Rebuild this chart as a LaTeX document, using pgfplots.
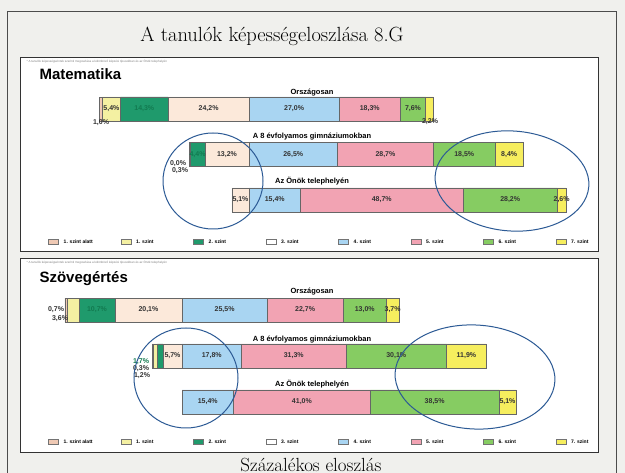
\documentclass[border=0pt]{standalone}
\usepackage{pgfplots}
\pgfplotsset{compat=1.18}
\usepackage{fontspec}
\setsansfont{Liberation Sans}

\definecolor{paper}{HTML}{F0F0ED}
\definecolor{lvlA}{HTML}{EFC9B4}
\definecolor{lvlB}{HTML}{F4F0A2}
\definecolor{lvlC}{HTML}{1F9A6C}
\definecolor{lvlD}{HTML}{FCE9DA}
\definecolor{lvlE}{HTML}{A9D5F2}
\definecolor{lvlF}{HTML}{F2A3B3}
\definecolor{lvlG}{HTML}{86CC62}
\definecolor{lvlH}{HTML}{F6EE5E}
\definecolor{pen}{HTML}{2C5A95}
\definecolor{darkgrn}{HTML}{127A50}

\newcommand{\lab}{\sffamily\bfseries\fontsize{7}{8}\selectfont}
\newcommand{\cat}{\sffamily\bfseries\fontsize{7.5}{8}\selectfont}
\newcommand{\leg}[1]{\makebox[50pt][l]{#1}}

% x values are shifted by 50: the boundary of levels 3 and 4 lies at x=50
\pgfplotsset{
  panel/.style={
    xbar stacked, hide axis, scale only axis, clip=false,
    width=601.2pt, xmin=-20, xmax=160,
    y dir=reverse, ymin=-0.5, ymax=2.5, bar width=24pt,
  },
  legpanel/.style={
    hide axis, scale only axis, width=601.2pt, xmin=0, xmax=1, ymin=0, ymax=1,
    legend columns=8,
    legend style={draw=none, fill=none, inner sep=0pt, anchor=west,
      font=\sffamily\bfseries\fontsize{5}{6}\selectfont,
      /tikz/every odd column/.append style={column sep=3pt},
      /tikz/every even column/.append style={column sep=5pt}},
    legend image code/.code={\draw[draw=black!55, line width=0.5pt, ##1] (0pt,-2.5pt) rectangle (10pt,2.5pt);},
  },
  seg/.style={fill=#1, draw=black!60, line width=0.5pt,
    nodes near coords, point meta=explicit symbolic,
    every node near coord/.append style={font=\lab, text=black!80}},
  offs/.style={draw=none, fill=none},
}

\newcommand{\szintlegend}{%
  \addlegendimage{fill=lvlA, draw=lvlF!70!black}\addlegendentry{\leg{1. szint alatt}}
  \addlegendimage{fill=lvlB}\addlegendentry{\leg{1. szint}}
  \addlegendimage{fill=lvlC}\addlegendentry{\leg{2. szint}}
  \addlegendimage{fill=white}\addlegendentry{\leg{3. szint}}
  \addlegendimage{fill=lvlE}\addlegendentry{\leg{4. szint}}
  \addlegendimage{fill=lvlF}\addlegendentry{\leg{5. szint}}
  \addlegendimage{fill=lvlG}\addlegendentry{\leg{6. szint}}
  \addlegendimage{fill=lvlH}\addlegendentry{\leg{7. szint}}
}

\begin{document}
\begin{tikzpicture}
\path[use as bounding box, fill=paper] (0pt,0pt) rectangle (625pt,-473pt);

\begin{scope}[x=1pt, y=-1pt]
  % slide frame and panels
  \draw[black!70, line width=1pt] (7,12) rectangle (616,490);
  \draw[black!80, fill=white, line width=0.9pt] (20,57) rectangle (598,251);
  \draw[black!80, fill=white, line width=0.9pt] (20,258) rectangle (598,452);
  \node[font=\fontsize{20.5}{22}\selectfont, anchor=base] at (272,42) {A tanulók képességeloszlása 8.G};
  \node[font=\fontsize{19}{20}\selectfont, anchor=base] at (311,472) {Százalékos eloszlás};
  \node[font=\sffamily\fontsize{3}{3}\selectfont, text=black!50, anchor=west] at (23,62) {* A tanulók képességszintek szerinti megoszlása a különböző képzési típusokban és az Önök telephelyén};
  \node[font=\sffamily\fontsize{3}{3}\selectfont, text=black!50, anchor=west] at (23,263) {* A tanulók képességszintek szerinti megoszlása a különböző képzési típusokban és az Önök telephelyén};
  \node[font=\sffamily\bfseries\fontsize{15}{16}\selectfont, anchor=base west] at (36,80) {Matematika};
  \node[font=\sffamily\bfseries\fontsize{15}{16}\selectfont, anchor=base west] at (36,283) {Szövegértés};
\end{scope}

% ---------- Matematika ----------
\begin{axis}[panel, height=136.5pt, at={(15.2pt,-86.25pt)}, anchor=north west]
\addplot[offs] coordinates {(5.1,0) (32.1,1) (44.9,2)};
\addplot[seg=lvlA] coordinates {(1.0,0) [] (0.0,1) [] (0,2) []};
\addplot[seg=lvlB] coordinates {(5.4,0) [5{,}4\%] (0.3,1) [] (0,2) []};
\addplot[seg=lvlC, every node near coord/.append style={text=darkgrn}] coordinates {(14.3,0) [14{,}3\%] (4.4,1) [4{,}4\%] (0,2) []};
\addplot[seg=lvlD] coordinates {(24.2,0) [24{,}2\%] (13.2,1) [13{,}2\%] (5.1,2) [5{,}1\%]};
\addplot[seg=lvlE] coordinates {(27.0,0) [27{,}0\%] (26.5,1) [26{,}5\%] (15.4,2) [15{,}4\%]};
\addplot[seg=lvlF] coordinates {(18.3,0) [18{,}3\%] (28.7,1) [28{,}7\%] (48.7,2) [48{,}7\%]};
\addplot[seg=lvlG] coordinates {(7.6,0) [7{,}6\%] (18.5,1) [18{,}5\%] (28.2,2) [28{,}2\%]};
\addplot[seg=lvlH] coordinates {(2.2,0) [] (8.4,1) [8{,}4\%] (2.6,2) [2{,}6\%]};
\end{axis}
\begin{axis}[legpanel, height=10pt, at={(15.2pt,-242pt)}, anchor=west,
  legend style={at={(0.0546,0.5)}}]
\szintlegend
\end{axis}

% ---------- Szövegértés ----------
\begin{axis}[panel, height=138pt, at={(15pt,-287pt)}, anchor=north west,
  xmin=0, xmax=180]
\addplot[offs] coordinates {(14.9,0) (41.1,1) (50,2)};
\addplot[seg=lvlA] coordinates {(0.7,0) [] (0.3,1) [] (0,2) []};
\addplot[seg=lvlB] coordinates {(3.6,0) [] (1.2,1) [] (0,2) []};
\addplot[seg=lvlC, every node near coord/.append style={text=darkgrn}] coordinates {(10.7,0) [10{,}7\%] (1.7,1) [] (0,2) []};
\addplot[seg=lvlD] coordinates {(20.1,0) [20{,}1\%] (5.7,1) [5{,}7\%] (0,2) []};
\addplot[seg=lvlE] coordinates {(25.5,0) [25{,}5\%] (17.8,1) [17{,}8\%] (15.4,2) [15{,}4\%]};
\addplot[seg=lvlF] coordinates {(22.7,0) [22{,}7\%] (31.3,1) [31{,}3\%] (41.0,2) [41{,}0\%]};
\addplot[seg=lvlG] coordinates {(13.0,0) [13{,}0\%] (30.1,1) [30{,}1\%] (38.5,2) [38{,}5\%]};
\addplot[seg=lvlH] coordinates {(3.7,0) [3{,}7\%] (11.9,1) [11{,}9\%] (5.1,2) [5{,}1\%]};
\end{axis}
\begin{axis}[legpanel, height=10pt, at={(15pt,-442pt)}, anchor=west,
  legend style={at={(0.0546,0.5)}}]
\szintlegend
\end{axis}

\begin{scope}[x=1pt, y=-1pt]
  % category titles
  \node[font=\cat] at (312,93) {Országosan};
  \node[font=\cat] at (312,137) {A 8 évfolyamos gimnáziumokban};
  \node[font=\cat] at (312,181) {Az Önök telephelyén};
  \node[font=\cat] at (312,292) {Országosan};
  \node[font=\cat] at (312,340) {A 8 évfolyamos gimnáziumokban};
  \node[font=\cat] at (312,384) {Az Önök telephelyén};
  % labels of narrow segments
  \node[font=\lab, text=black!80] at (101,123) {1,0\%};
  \node[font=\lab, text=black!80] at (178,164) {0,0\%};
  \node[font=\lab, text=black!80] at (180,171) {0,3\%};
  \node[font=\lab, text=black!80] at (430,122) {2,2\%};
  \node[font=\lab, text=black!80] at (56,310) {0,7\%};
  \node[font=\lab, text=black!80] at (60,319) {3,6\%};
  \node[font=\lab, text=darkgrn] at (141,362) {1,7\%};
  \node[font=\lab, text=black!80] at (141,369) {0,3\%};
  \node[font=\lab, text=black!80] at (142,376) {1,2\%};
  % hand-drawn ellipses
  \draw[pen, line width=1pt] (213,181) ellipse [x radius=50, y radius=48];
  \draw[pen, line width=1pt, rotate around={-4:(512,181)}] (512,181) ellipse [x radius=77, y radius=50];
  \draw[pen, line width=1pt] (186,378) ellipse [x radius=52, y radius=50];
  \draw[pen, line width=1pt, rotate around={-3:(475,377)}] (475,377) ellipse [x radius=80, y radius=52];
\end{scope}
\end{tikzpicture}
\end{document}
